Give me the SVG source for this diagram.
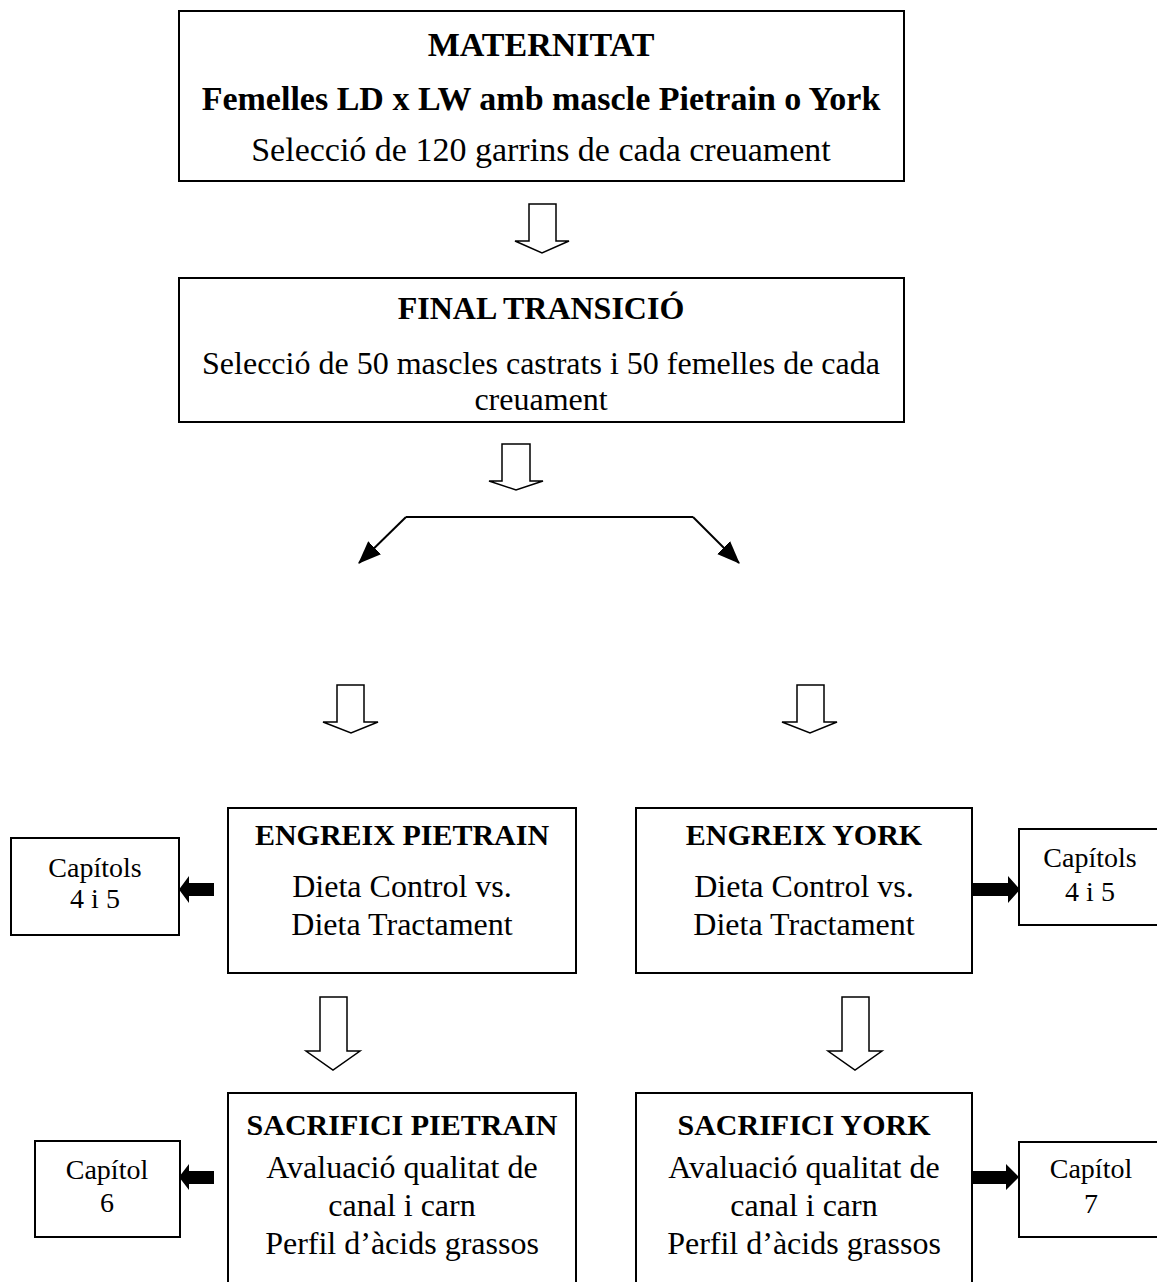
<svg xmlns="http://www.w3.org/2000/svg" width="1157" height="1282" viewBox="0 0 1157 1282">
<defs>
<style>
.box{fill:#fff;stroke:#000;stroke-width:2}
.t{font-family:"Liberation Serif","Times New Roman",serif;font-size:30px;fill:#000;text-anchor:middle}
.b{font-weight:bold}
.s{font-size:28px}
.l1{font-size:34px}
.l2{font-size:32px}
.hollow{fill:#fff;stroke:#000;stroke-width:1.5;stroke-linejoin:miter}
.solid{fill:#000;stroke:none}
.line{fill:none;stroke:#000;stroke-width:2}
</style>
<marker id="ahb" viewBox="0 0 20 16" refX="19" refY="8" markerWidth="23" markerHeight="19" markerUnits="userSpaceOnUse" orient="auto">
<path d="M0 0 L20 8 L0 16 Z" fill="#000"/>
</marker>
</defs>
<rect width="1157" height="1282" fill="#fff"/>

<g id="maternitat">
<rect class="box" x="179" y="11" width="725" height="170"/>
<text class="t b l1" x="541" y="56">MATERNITAT</text>
<text class="t b l1" x="541" y="110">Femelles LD x LW amb mascle Pietrain o York</text>
<text class="t l1" x="541" y="161">Selecció de 120 garrins de cada creuament</text>
</g>

<g id="final-transicio">
<rect class="box" x="179" y="278" width="725" height="144"/>
<text class="t b l2" x="541" y="319">FINAL TRANSICIÓ</text>
<text class="t l2" x="541" y="374">Selecció de 50 mascles castrats i 50 femelles de cada</text>
<text class="t l2" x="541" y="410">creuament</text>
</g>

<g id="engreix-pietrain">
<rect class="box" x="228" y="808" width="348" height="165"/>
<text class="t b" x="402" y="845">ENGREIX PIETRAIN</text>
<text class="t l2" x="402" y="897">Dieta Control vs.</text>
<text class="t l2" x="402" y="935">Dieta Tractament</text>
</g>

<g id="engreix-york">
<rect class="box" x="636" y="808" width="336" height="165"/>
<text class="t b" x="804" y="845">ENGREIX YORK</text>
<text class="t l2" x="804" y="897">Dieta Control vs.</text>
<text class="t l2" x="804" y="935">Dieta Tractament</text>
</g>

<g id="capitols-left">
<rect class="box" x="11" y="838" width="168" height="97"/>
<text class="t s" x="95" y="877">Capítols</text>
<text class="t s" x="95" y="908">4 i 5</text>
</g>

<g id="capitols-right">
<rect class="box" x="1019" y="829" width="160" height="96"/>
<text class="t s" x="1090" y="867">Capítols</text>
<text class="t s" x="1090" y="901">4 i 5</text>
</g>

<g id="sacrifici-pietrain">
<rect class="box" x="228" y="1093" width="348" height="200"/>
<text class="t b" x="402" y="1135">SACRIFICI PIETRAIN</text>
<text class="t l2" x="402" y="1178">Avaluació qualitat de</text>
<text class="t l2" x="402" y="1216">canal i carn</text>
<text class="t l2" x="402" y="1254">Perfil d’àcids grassos</text>
</g>

<g id="sacrifici-york">
<rect class="box" x="636" y="1093" width="336" height="200"/>
<text class="t b" x="804" y="1135">SACRIFICI YORK</text>
<text class="t l2" x="804" y="1178">Avaluació qualitat de</text>
<text class="t l2" x="804" y="1216">canal i carn</text>
<text class="t l2" x="804" y="1254">Perfil d’àcids grassos</text>
</g>

<g id="capitol-6">
<rect class="box" x="35" y="1141" width="145" height="96"/>
<text class="t s" x="107" y="1179">Capítol</text>
<text class="t s" x="107" y="1212">6</text>
</g>

<g id="capitol-7">
<rect class="box" x="1019" y="1142" width="160" height="95"/>
<text class="t s" x="1091" y="1178">Capítol</text>
<text class="t s" x="1091" y="1213">7</text>
</g>

<g id="connectors">
<path class="hollow" d="M529 204 H556 V241 H569 L542 253 L515 241 H529 Z"/>
<path class="hollow" d="M502 444 H530 V481 H543 L516 490 L489 481 H502 Z"/>
<path class="line" d="M406 517 H693"/>
<path class="line" d="M406 517 L359 563" marker-end="url(#ahb)"/>
<path class="line" d="M693 517 L739 563" marker-end="url(#ahb)"/>
<path class="hollow" d="M337 685 H364 V722 H378 L351 733 L323 722 H337 Z"/>
<path class="hollow" d="M797 685 H824 V722 H837 L810 733 L782 722 H797 Z"/>
<path class="hollow" d="M320 997 H347 V1051 H360 L333 1070 L306 1051 H320 Z"/>
<path class="hollow" d="M842 997 H869 V1051 H882 L855 1070 L828 1051 H842 Z"/>
<path class="solid" d="M214 883 H189 V876 L179 889.5 L189 903 V896 H214 Z"/>
<path class="solid" d="M972 883 H1008 V876 L1020 889.5 L1008 903 V896 H972 Z"/>
<path class="solid" d="M214 1171 H189 V1164 L179 1177 L189 1190 V1184 H214 Z"/>
<path class="solid" d="M972 1171 H1006 V1164 L1019 1177 L1006 1190 V1184 H972 Z"/>
</g>
</svg>
